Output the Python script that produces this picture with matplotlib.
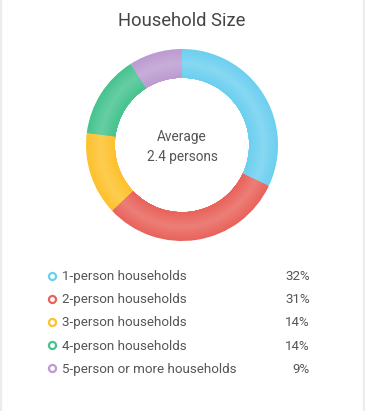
import matplotlib
matplotlib.use("Agg")
import matplotlib.pyplot as plt
import matplotlib.colors as mcolors
from matplotlib.patches import Rectangle
import numpy as np

plt.rcParams['font.family'] = ['Roboto', 'DejaVu Sans']

# data
categories = ["1-person households", "2-person households", "3-person households",
              "4-person households", "5-person or more households"]
shares = [32, 31, 14, 14, 9]
colors = ["#6ccfef", "#e8625a", "#fdc12b", "#46c38f", "#bc9bd0"]
title = "Household Size"
center_label = "Average\n2.4 persons"

W, H = 365, 411
fig = plt.figure(figsize=(W / 100, H / 100), dpi=100)
fig.patch.set_facecolor("white")

# card border
fig.patches.append(Rectangle((0, 0), 1.5 / W, 1, transform=fig.transFigure,
                             color="#ececec", zorder=0))
fig.patches.append(Rectangle((362.5 / W, 0), 2.5 / W, 1, transform=fig.transFigure,
                             color="#ececec", zorder=0))

fig.text(182 / W, 1 - 21 / H, title, ha="center", va="center",
         fontsize=13.2, color="#444444")

# donut, with a soft light band in the middle of the ring
cx, cy, R = 182, 145, 96
ax = fig.add_axes([(cx - R) / W, 1 - (cy + R) / H, 2 * R / W, 2 * R / H])
ax.set_aspect("equal")
ax.axis("off")

inner = 0.70
n_layers = 14
edges = np.linspace(inner, 1.0, n_layers + 1)
for i in reversed(range(n_layers)):
    mid = (edges[i] + edges[i + 1]) / 2
    t = (mid - inner) / (1 - inner)
    light = 0.18 * (1 - abs(2 * t - 1))  # brightest at ring middle
    cols = []
    for c in colors:
        rgb = np.array(mcolors.to_rgb(c))
        cols.append(rgb + (1 - rgb) * light)
    ax.pie(shares, radius=edges[i + 1], colors=cols, startangle=90,
           counterclock=False,
           wedgeprops=dict(width=edges[i + 1] - inner, linewidth=0))
ax.set_xlim(-1, 1)
ax.set_ylim(-1, 1)

ax.text(0, 0.085, center_label.split("\n")[0], ha="center", va="center",
        fontsize=9.8, color="#555555")
ax.text(0, -0.125, center_label.split("\n")[1], ha="center", va="center",
        fontsize=9.8, color="#555555")

# legend table
lg = fig.add_axes([0, 0, 1, 1])
lg.set_xlim(0, W)
lg.set_ylim(H, 0)
lg.axis("off")
lg.patch.set_alpha(0)
for i, (cat, val, col) in enumerate(zip(categories, shares, colors)):
    y = 276.5 + i * 23.2
    lg.scatter([52], [y - 1], s=26, facecolors="white", edgecolors=col, linewidths=1.6)
    lg.text(62.5, y, cat, ha="left", va="center", fontsize=9.6, color="#555555")
    lg.text(310, y, f"{val}%", ha="right", va="center", fontsize=9.6, color="#555555")

fig.savefig("out.png", dpi=100)
